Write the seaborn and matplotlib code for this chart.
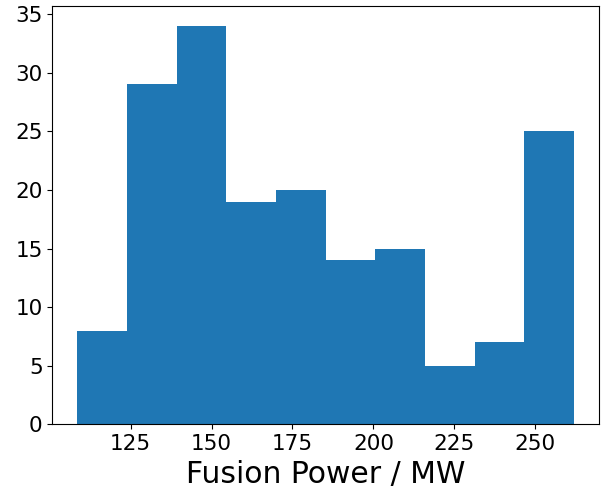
import matplotlib
matplotlib.use("Agg")
import matplotlib.pyplot as plt
import seaborn as sns
import numpy as np
import pandas as pd

# histogram: 10 equal bins
bin_lo = 108.5
bin_hi = 262.0
counts = [8, 29, 34, 19, 20, 14, 15, 5, 7, 25]

edges = np.linspace(bin_lo, bin_hi, len(counts) + 1)
df = pd.DataFrame({"power": (edges[:-1] + edges[1:]) / 2, "n": counts})

fig = plt.figure(figsize=(6.06, 4.9), dpi=100)
ax = fig.add_axes([0.0863, 0.134, 0.9022, 0.854])
sns.histplot(data=df, x="power", weights="n", bins=len(counts),
             binrange=(bin_lo, bin_hi), color="#1f77b4",
             alpha=1, linewidth=0, ax=ax)
ax.set_ylabel("")
ax.set_xlabel("Fusion Power / MW", fontsize=21.5)
ax.tick_params(labelsize=15.5)
ax.set_xticks([125, 150, 175, 200, 225, 250])
fig.savefig("out.png", dpi=100)
